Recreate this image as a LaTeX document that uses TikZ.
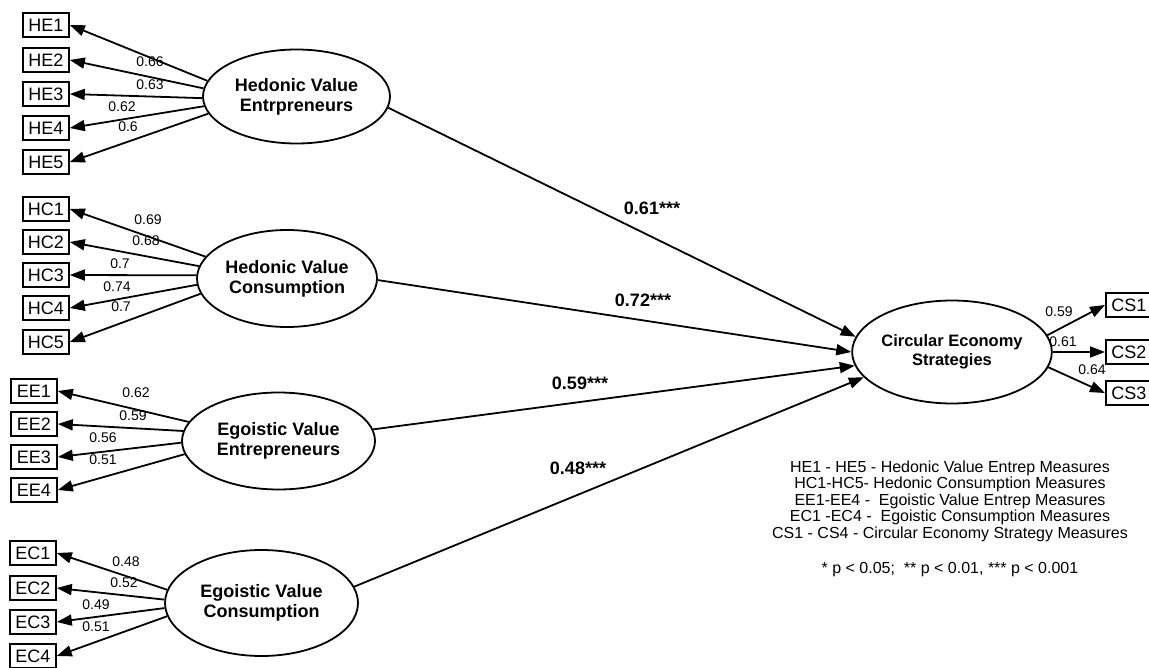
\documentclass[tikz,border=0pt]{standalone}
\usepackage{fontspec}
\setmainfont{Liberation Sans}
\usetikzlibrary{arrows.meta,shapes.geometric}
\begin{document}
\begin{tikzpicture}[x=1pt,y=-1pt,
  obs/.style={draw, line width=1.8pt, font=\fontsize{18}{18}\selectfont, minimum width=46pt, minimum height=24pt, inner sep=0pt, anchor=west},
  lat/.style={ellipse, draw, line width=1.8pt, font=\bfseries\fontsize{18}{20}\selectfont, align=center, inner sep=0pt},
  ld/.style={line width=1.8pt, -{Triangle[length=15pt,width=11pt]}},
  lbl/.style={font=\fontsize{14}{14}\selectfont, inner sep=0pt},
  plbl/.style={font=\bfseries\fontsize{18}{18}\selectfont, inner sep=0pt},
  leg/.style={font=\fontsize{16}{16.5}\selectfont, align=center, inner sep=0pt}
]
\useasboundingbox (0,0) rectangle (1149,668);
\clip (0,0) rectangle (1149,668);

% latent variables
\node[lat, minimum width=187pt, minimum height=94pt] (hve) at (296.5,96.5) {Hedonic Value\\Entrpreneurs};
\node[lat, minimum width=180pt, minimum height=97pt] (hvc) at (287,278.5) {Hedonic Value\\Consumption};
\node[lat, minimum width=193pt, minimum height=97pt] (eve) at (278.5,441) {Egoistic Value\\Entrepreneurs};
\node[lat, minimum width=193pt, minimum height=106pt] (evc) at (261.5,603) {Egoistic Value\\Consumption};
\node[lat, minimum width=198pt, minimum height=103pt, font=\bfseries\fontsize{16.5}{19}\selectfont] (ces) at (952,352) {Circular Economy\\Strategies};

% HE indicators
\foreach \i/\y/\a/\val/\lx/\ly in {1/25/170/0.66/150/62, 2/60/175/0.63/150/85, 3/94/181/0.62/122/107, 4/128/186/0.6/128/127, 5/162/191/{}/0/0}{
  \node[obs] (he\i) at (22,\y) {HE\i};
  \draw[ld] (hve.\a) -- (he\i.east);
}
\node[lbl] (lhe1) at (150,62) {0.66};
\node[lbl] (lhe2) at (150,85) {0.63};
\node[lbl] (lhe3) at (122,107) {0.62};
\node[lbl] (lhe4) at (128,127) {0.6};

% HC indicators
\foreach \i/\y/\a in {1/209/165, 2/242/172, 3/275/178, 4/308/184, 5/342/190}{
  \node[obs] (hc\i) at (22,\y) {HC\i};
  \draw[ld] (hvc.\a) -- (hc\i.east);
}
\node[lbl] (lhc1) at (148,220) {0.69};
\node[lbl] (lhc2) at (146,241) {0.68};
\node[lbl] (lhc3) at (120,264) {0.7};
\node[lbl] (lhc4) at (117,287) {0.74};
\node[lbl] (lhc5) at (121,307) {0.7};

% EE indicators
\foreach \i/\y/\a in {1/391/168, 2/424/174, 3/457/181, 4/490/188}{
  \node[obs] (ee\i) at (10,\y) {EE\i};
  \draw[ld] (eve.\a) -- (ee\i.east);
}
\node[lbl] (lee1) at (136,393) {0.62};
\node[lbl] (lee2) at (133,416) {0.59};
\node[lbl] (lee3) at (103,438) {0.56};
\node[lbl] (lee4) at (103,460) {0.51};

% EC indicators
\foreach \i/\y/\a in {1/553/172, 2/588/178, 3/622/183, 4/656/188}{
  \node[obs] (ec\i) at (9,\y) {EC\i};
  \draw[ld] (evc.\a) -- (ec\i.east);
}
\node[lbl] (lec1) at (126,562) {0.48};
\node[lbl] (lec2) at (124,583) {0.52};
\node[lbl] (lec3) at (96,605) {0.49};
\node[lbl] (lec4) at (96,627) {0.51};

% CS indicators
\node[obs] (cs1) at (1105,305) {CS1};
\node[obs] (cs2) at (1105,352) {CS2};
\node[obs] (cs3) at (1105,393) {CS3};
\draw[ld] (ces.10) -- (cs1.west);
\draw[ld] (ces.0) -- (cs2.west);
\draw[ld] (ces.-9) -- (cs3.west);
\node[lbl] (lcs1) at (1059,312) {0.59};
\node[lbl] (lcs2) at (1063,342) {0.61};
\node[lbl] (lcs3) at (1092,370) {0.64};

% structural paths
\draw[ld] (hve.-7) -- (ces.171);
\draw[ld] (hvc.-1) -- (ces.180);
\draw[ld] (eve.7) -- (ces.188);
\draw[ld] (evc.10) -- (ces.196);
\node[plbl] (p1) at (652,208) {0.61***};
\node[plbl] (p2) at (643,300) {0.72***};
\node[plbl] (p3) at (580,383) {0.59***};
\node[plbl] (p4) at (578,468) {0.48***};

% legend
\node[leg] (legend) at (950,501) {HE1 - HE5 - Hedonic Value Entrep Measures\\
HC1-HC5- Hedonic Consumption Measures\\
EE1-EE4 -\ \ Egoistic Value Entrep Measures\\
EC1 -EC4 -\ \ Egoistic Consumption Measures\\
CS1 - CS4 - Circular Economy Strategy Measures};
\node[leg] (pval) at (950,570) {* p < 0.05;\ \ ** p < 0.01, *** p < 0.001};
\end{tikzpicture}
\end{document}
